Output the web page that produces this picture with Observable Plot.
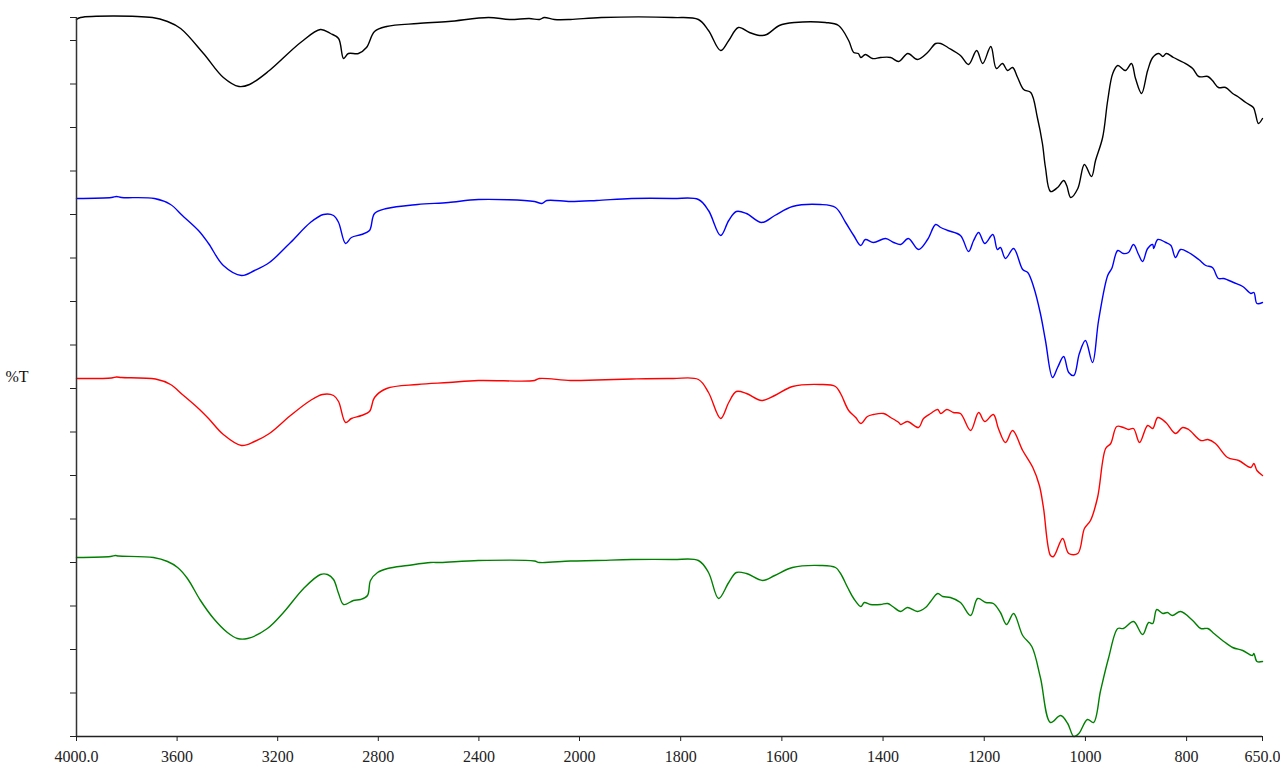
<!DOCTYPE html>
<html>
<head>
<meta charset="utf-8">
<script src="https://cdn.jsdelivr.net/npm/d3@7"></script>
<script src="https://cdn.jsdelivr.net/npm/@observablehq/plot@0.6"></script>
<style>
  html, body { margin: 0; padding: 0; background: #fff; }
  #chart { width: 1280px; height: 769px; }
</style>
</head>
<body>
<div id="chart"></div>
<script>
// Wavenumber axis (cm-1), with the usual 2x expansion below 2000
const xBreaks = [4000, 2000, 650];
const xTickValues = [4000, 3600, 3200, 2800, 2400, 2000, 1800, 1600, 1400, 1200, 1000, 800, 650];
const yLabel = "%T";
const yMax = 71.9;

// Four stacked spectra: [wavenumber, displayed %T]
const spectrumBlack = [
  [4000,71.7],[3984,71.9],[3698,71.9],[3638,71.5],[3586,70.8],[3495,68.3],[3416,65.9],[3354,65.0],[3312,65.2],[3233,66.6],
  [3109,69.4],[3030,70.7],[2990,70.3],[2958,69.8],[2938,67.8],[2919,68.3],[2879,68.3],[2847,68.9],[2815,70.5],[2767,71.0],
  [2644,71.3],[2521,71.5],[2362,71.9],[2278,71.7],[2200,71.8],[2159,71.7],[2140,71.9],[2100,71.7],[2036,71.7],[1957,71.9],
  [1816,71.9],[1765,71.7],[1745,70.6],[1721,68.6],[1705,69.6],[1686,70.9],[1664,70.4],[1644,70.1],[1630,70.2],[1605,71.1],
  [1575,71.4],[1514,71.4],[1488,71.1],[1468,69.6],[1458,68.4],[1449,68.3],[1444,67.9],[1435,68.2],[1421,67.8],[1405,67.9],
  [1385,67.9],[1369,67.5],[1351,68.3],[1332,67.7],[1312,68.4],[1296,69.3],[1286,69.3],[1272,68.9],[1247,68.1],[1231,67.2],
  [1215,68.6],[1203,67.3],[1187,69.0],[1176,66.8],[1164,67.3],[1154,66.6],[1144,66.9],[1134,65.9],[1122,64.7],[1108,64.4],
  [1095,61.9],[1085,59.3],[1079,56.9],[1069,54.5],[1055,54.9],[1043,55.6],[1037,55.1],[1029,53.9],[1015,54.8],[1002,57.2],
  [988,56.0],[980,57.6],[966,59.9],[956,63.6],[946,66.3],[936,67.1],[921,66.6],[909,67.3],[901,65.8],[889,64.3],
  [877,66.6],[867,67.9],[855,68.3],[847,68.0],[840,68.3],[826,67.9],[806,67.4],[788,66.8],[776,66.0],[758,66.0],
  [749,65.6],[737,64.9],[723,64.9],[709,64.3],[699,64.0],[683,63.4],[668,62.9],[664,62.3],[658,61.3],[650,61.8]
];
const spectrumBlue = [
  [4000,53.8],[3861,53.9],[3841,54.0],[3821,53.9],[3690,53.8],[3626,53.2],[3579,52.1],[3515,50.6],[3475,49.3],[3416,47.1],
  [3344,46.1],[3292,46.6],[3233,47.4],[3149,49.4],[3070,51.4],[3018,52.2],[2978,52.1],[2958,51.4],[2930,49.3],[2907,49.9],
  [2867,50.2],[2835,50.6],[2815,52.3],[2767,52.8],[2644,53.2],[2521,53.4],[2402,53.7],[2179,53.5],[2150,53.3],[2130,53.6],
  [2036,53.5],[1966,53.6],[1897,53.8],[1816,53.8],[1765,53.7],[1745,52.6],[1721,50.1],[1705,51.6],[1690,52.5],[1670,52.3],
  [1640,51.4],[1614,52.1],[1579,53.0],[1524,53.2],[1494,52.9],[1474,51.4],[1458,50.1],[1444,49.1],[1435,49.7],[1419,49.4],
  [1395,49.8],[1379,49.4],[1365,49.2],[1350,49.8],[1330,48.7],[1312,49.7],[1296,51.2],[1286,50.9],[1272,50.6],[1247,50.1],
  [1231,48.5],[1221,49.6],[1211,50.4],[1199,49.3],[1183,50.2],[1174,48.7],[1168,48.9],[1158,47.8],[1142,48.8],[1124,46.7],
  [1114,46.4],[1102,44.9],[1089,42.3],[1079,39.6],[1065,35.9],[1055,36.9],[1043,38.0],[1033,36.4],[1023,36.1],[1012,38.3],
  [1000,39.6],[986,37.4],[974,41.6],[956,46.1],[948,46.8],[936,48.6],[925,48.3],[915,48.4],[905,49.2],[895,48.2],
  [887,47.5],[877,48.8],[867,49.2],[865,48.8],[857,49.7],[841,49.4],[831,49.1],[822,47.9],[812,48.7],[796,48.4],
  [776,47.7],[762,47.1],[749,46.9],[737,45.8],[727,45.8],[707,45.4],[689,45.0],[673,44.3],[667,44.4],[661,43.3],[650,43.4]
];
const spectrumRed = [
  [4000,35.8],[3861,35.85],[3841,35.95],[3821,35.9],[3686,35.75],[3626,35.2],[3579,34.2],[3515,32.8],[3475,31.8],[3416,30.2],
  [3344,29.1],[3292,29.5],[3233,30.3],[3149,32.1],[3070,33.6],[3022,34.2],[2978,34.1],[2958,33.5],[2930,31.4],[2907,31.8],
  [2867,32.1],[2835,32.5],[2815,33.9],[2767,34.8],[2644,35.2],[2521,35.4],[2402,35.6],[2179,35.6],[2160,35.8],[2036,35.6],
  [1966,35.65],[1897,35.75],[1816,35.8],[1765,35.7],[1745,34.4],[1721,31.8],[1705,33.4],[1690,34.5],[1670,34.3],[1640,33.6],
  [1614,34.1],[1579,35.0],[1524,35.2],[1494,35.0],[1484,34.3],[1468,32.6],[1454,31.9],[1444,31.3],[1431,32.0],[1419,32.2],
  [1399,32.3],[1385,31.9],[1369,31.4],[1365,31.2],[1352,31.5],[1330,30.9],[1320,31.8],[1306,32.3],[1292,32.7],[1286,32.3],
  [1274,32.7],[1261,32.4],[1247,32.3],[1227,30.6],[1211,32.4],[1199,31.5],[1182,32.2],[1172,30.8],[1158,29.4],[1144,30.6],
  [1124,28.6],[1104,26.9],[1091,25.1],[1083,22.9],[1069,18.1],[1063,18.0],[1045,19.8],[1033,18.3],[1015,18.3],[1002,20.8],
  [990,21.6],[976,23.9],[960,28.8],[950,29.3],[938,31.0],[925,30.9],[915,30.7],[905,30.8],[893,29.4],[877,31.1],
  [867,30.8],[857,31.9],[841,31.4],[822,30.3],[808,30.9],[796,30.7],[772,29.6],[758,29.7],[743,29.3],[719,27.9],
  [697,27.6],[673,26.9],[667,27.3],[661,26.6],[650,26.1]
];
const spectrumGreen = [
  [4000,17.9],[3865,18.0],[3845,18.1],[3833,18.05],[3694,17.9],[3638,17.5],[3598,16.9],[3559,15.8],[3507,13.6],[3455,11.8],
  [3400,10.4],[3360,9.8],[3320,9.8],[3241,10.8],[3177,12.4],[3097,14.8],[3030,16.2],[3002,16.2],[2978,15.7],[2958,14.3],
  [2938,13.2],[2899,13.6],[2871,13.7],[2843,14.1],[2831,15.6],[2803,16.4],[2763,16.8],[2684,17.1],[2592,17.4],[2553,17.4],
  [2402,17.6],[2179,17.55],[2160,17.4],[2036,17.55],[1966,17.6],[1897,17.7],[1816,17.7],[1765,17.6],[1745,16.4],[1725,13.8],
  [1705,15.4],[1690,16.4],[1670,16.3],[1638,15.6],[1614,16.1],[1579,16.9],[1524,17.1],[1494,16.9],[1484,16.3],[1470,14.9],
  [1458,13.8],[1444,13.0],[1437,13.4],[1425,13.2],[1405,13.2],[1391,13.3],[1381,13.0],[1365,12.5],[1352,12.9],[1332,12.5],
  [1316,12.9],[1306,13.5],[1292,14.3],[1282,14.0],[1267,13.9],[1247,13.4],[1227,12.1],[1213,13.8],[1197,13.4],[1182,13.3],
  [1168,12.4],[1156,11.2],[1142,12.3],[1124,10.1],[1106,9.0],[1089,5.9],[1069,1.4],[1049,2.1],[1035,1.3],[1023,0.0],
  [1013,0.3],[996,1.7],[984,1.4],[970,4.6],[954,7.9],[936,10.8],[925,10.8],[905,11.5],[887,10.2],[875,11.4],
  [867,11.3],[859,12.7],[847,12.3],[838,12.4],[828,12.1],[812,12.5],[788,11.6],[772,10.8],[758,10.8],[746,10.3],
  [729,9.6],[709,8.9],[689,8.6],[670,8.1],[667,8.3],[661,7.5],[650,7.5]
];
const seriesNames = ["black", "blue", "red", "green"];
const seriesColors = ["#000000", "#0000ff", "#ff0000", "#008000"];

const table = [spectrumBlack, spectrumBlue, spectrumRed, spectrumGreen].flatMap((s, i) =>
  s.map(([wn, t]) => ({series: seriesNames[i], wn, t}))
);

const yTicks = d3.range(0, 17).map(k => k * 4.35).concat([yMax]);

const chart = Plot.plot({
  width: 1280,
  height: 769,
  marginLeft: 76,
  marginRight: 18,
  marginTop: 17,
  marginBottom: 33,
  style: {fontFamily: "'Liberation Serif', 'Times New Roman', serif", fontSize: "16px", color: "#222", background: "#fff"},
  x: {
    type: "linear",
    domain: xBreaks,
    range: [76, 579, 1262],
    ticks: xTickValues,
    tickFormat: d => (d === 4000 || d === 650) ? d.toFixed(1) : String(d),
    tickSize: 5,
    tickPadding: 9,
    label: null
  },
  y: {
    type: "linear",
    domain: [0, yMax],
    ticks: yTicks,
    tickFormat: () => "",
    tickSize: 6,
    label: null
  },
  color: {domain: seriesNames, range: seriesColors},
  marks: [
    Plot.line(table, {x: "wn", y: "t", z: "series", stroke: "series", strokeWidth: 1.4, curve: "catmull-rom"}),
    Plot.ruleY([0], {stroke: "#222", strokeWidth: 1.5}),
    Plot.ruleX([4000], {y1: 0, y2: yMax, stroke: "#333", strokeWidth: 1.5}),
    Plot.text([yLabel], {frameAnchor: "left", dx: -71, textAnchor: "start", fontSize: 16, fill: "#111"})
  ]
});
document.getElementById("chart").appendChild(chart);
</script>
</body>
</html>
